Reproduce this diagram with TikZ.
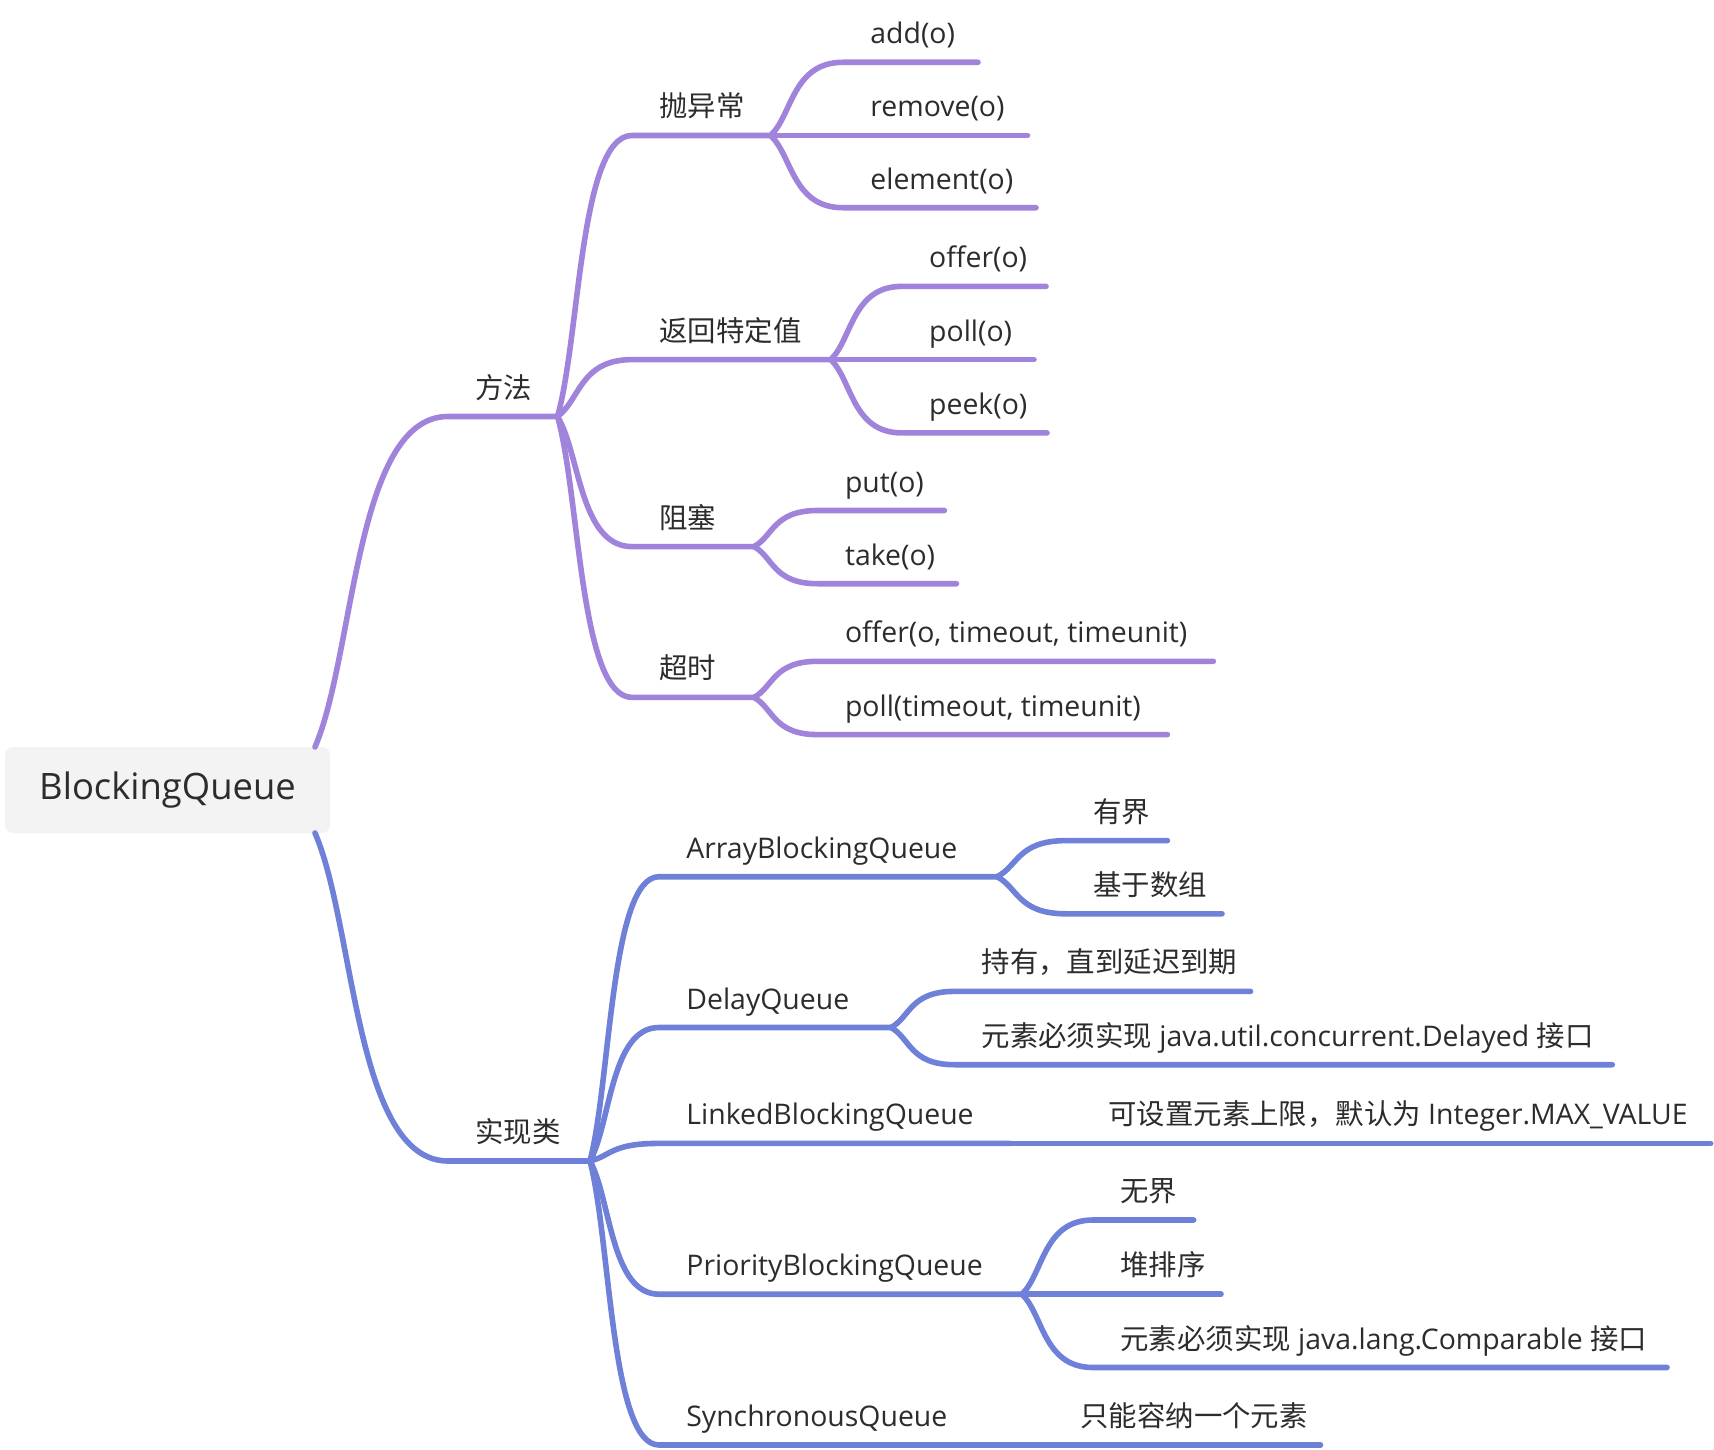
\documentclass[tikz,border=0pt]{standalone}
\usepackage{fontspec}
\setmainfont{Open Sans}
\newfontfamily\cjk{Noto Sans CJK SC}
\usepackage{tikz}
\usetikzlibrary{calc}
\definecolor{mpurple}{RGB}{160,132,220}
\definecolor{mblue}{RGB}{111,128,216}
\definecolor{mtext}{RGB}{44,44,44}
\definecolor{mroot}{RGB}{243,243,243}

\begin{document}
\begin{tikzpicture}[x=0.5pt, y=-0.5pt,
    root/.style={fill=mroot, rounded corners=4pt, minimum width=162.5pt,
                 minimum height=43pt, inner sep=0pt,
                 font=\fontsize{18.2}{20}\selectfont, text=mtext},
    lbl/.style={anchor=base west, inner sep=0pt, xshift=13.5pt, yshift=9.25pt,
                font=\fontsize{14.2}{16}\selectfont, text=mtext},
    pl/.style={draw=mpurple, line width=2.8pt, line cap=round},
    bl/.style={draw=mblue, line width=2.8pt, line cap=round},
    branch/.style={to path={let \p1=(\tikztostart), \p2=(\tikztotarget) in
        .. controls ({\x1+0.3*(\x2-\x1)},{\y1+0.28*(\y2-\y1)})
        and ({\x1+0.3*(\x2-\x1)},\y2) .. (\tikztotarget)}}
  ]
  \useasboundingbox (0,0) rectangle (1714,1450);
  % Root
  \node[root] (root) at (167.5,790) {BlockingQueue};
  \coordinate (rootN) at (315,747);
  \coordinate (rootS) at (315,833);

  % Methods (purple)
  \coordinate (ffS) at (448,416.5);   \coordinate (ffE) at (557.5,416.5);
  \coordinate (pcS) at (632,135.5);   \coordinate (pcE) at (770.6,135.5);
  \coordinate (fhS) at (632,359.6);   \coordinate (fhE) at (830.8,359.6);
  \coordinate (zsS) at (632,546.6);   \coordinate (zsE) at (754,546.6);
  \coordinate (csS) at (632,697.4);   \coordinate (csE) at (754,697.4);
  \coordinate (addS) at (843,62.3);   \coordinate (addE) at (978,62.3);
  \coordinate (rmS) at (843,135.5);   \coordinate (rmE) at (1027.5,135.5);
  \coordinate (elS) at (843,207.7);   \coordinate (elE) at (1036,207.7);
  \coordinate (ofS) at (901.8,286.4); \coordinate (ofE) at (1046,286.4);
  \coordinate (poS) at (901.8,359.6); \coordinate (poE) at (1034,359.6);
  \coordinate (pkS) at (901.8,432.9); \coordinate (pkE) at (1047,432.9);
  \coordinate (ptS) at (817.6,510.5); \coordinate (ptE) at (944.4,510.5);
  \coordinate (tkS) at (817.6,583.7); \coordinate (tkE) at (956.5,583.7);
  \coordinate (otS) at (817.6,661.3); \coordinate (otE) at (1213.3,661.3);
  \coordinate (ptoS) at (817.6,734.6); \coordinate (ptoE) at (1167.4,734.6);

  \draw[pl] (rootN) to[branch] (ffS) -- (ffE);
  \draw[pl] (ffE) to[branch] (pcS) -- (pcE);
  \draw[pl] (ffE) to[branch] (fhS) -- (fhE);
  \draw[pl] (ffE) to[branch] (zsS) -- (zsE);
  \draw[pl] (ffE) to[branch] (csS) -- (csE);
  \draw[pl] (pcE) to[branch] (addS) -- (addE);
  \draw[pl] (pcE) -- (rmE);
  \draw[pl] (pcE) to[branch] (elS) -- (elE);
  \draw[pl] (fhE) to[branch] (ofS) -- (ofE);
  \draw[pl] (fhE) -- (poE);
  \draw[pl] (fhE) to[branch] (pkS) -- (pkE);
  \draw[pl] (zsE) to[branch] (ptS) -- (ptE);
  \draw[pl] (zsE) to[branch] (tkS) -- (tkE);
  \draw[pl] (csE) to[branch] (otS) -- (otE);
  \draw[pl] (csE) to[branch] (ptoS) -- (ptoE);

  \node[lbl] (ff) at (ffS) {\cjk 方法};
  \node[lbl] (pc) at (pcS) {\cjk 抛异常};
  \node[lbl] (fh) at (fhS) {\cjk 返回特定值};
  \node[lbl] (zs) at (zsS) {\cjk 阻塞};
  \node[lbl] (cs) at (csS) {\cjk 超时};
  \node[lbl] (add) at (addS) {add(o)};
  \node[lbl] (rm) at (rmS) {remove(o)};
  \node[lbl] (el) at (elS) {element(o)};
  \node[lbl] (of) at (ofS) {offer(o)};
  \node[lbl] (po) at (poS) {poll(o)};
  \node[lbl] (pk) at (pkS) {peek(o)};
  \node[lbl] (pt) at (ptS) {put(o)};
  \node[lbl] (tk) at (tkS) {take(o)};
  \node[lbl] (ot) at (otS) {offer(o, timeout, timeunit)};
  \node[lbl] (pto) at (ptoS) {poll(timeout, timeunit)};

  % Implementations (blue)
  \coordinate (sxS) at (448,1161);    \coordinate (sxE) at (590,1161);
  \coordinate (abS) at (659,876.7);   \coordinate (abE) at (997,876.7);
  \coordinate (dqS) at (659,1027.5);  \coordinate (dqE) at (891,1027.5);
  \coordinate (lbS) at (659,1143.4);  \coordinate (lbE) at (1010,1143.4);
  \coordinate (pbS) at (659,1294.2);  \coordinate (pbE) at (1022,1294.2);
  \coordinate (sqS) at (659,1445);    \coordinate (sqE) at (982,1445);
  \coordinate (yjS) at (1066,840.6);  \coordinate (yjE) at (1167.4,840.6);
  \coordinate (szS) at (1066,913.8);  \coordinate (szE) at (1222,913.8);
  \coordinate (cyS) at (954.3,991.4); \coordinate (cyE) at (1250.5,991.4);
  \coordinate (dyS) at (954.3,1064.7); \coordinate (dyE) at (1612.3,1064.7);
  \coordinate (sxlS) at (1081,1143.4); \coordinate (sxlE) at (1710.7,1143.4);
  \coordinate (wjS) at (1093,1220);   \coordinate (wjE) at (1193.7,1220);
  \coordinate (dpS) at (1093,1294.2); \coordinate (dpE) at (1221,1294.2);
  \coordinate (cpS) at (1093,1367.5); \coordinate (cpE) at (1667,1367.5);
  \coordinate (ynS) at (1053,1445);   \coordinate (ynE) at (1320.5,1445);

  \draw[bl] (rootS) to[branch] (sxS) -- (sxE);
  \draw[bl] (sxE) to[branch] (abS) -- (abE);
  \draw[bl] (sxE) to[branch] (dqS) -- (dqE);
  \draw[bl] (sxE) to[branch] (lbS) -- (lbE);
  \draw[bl] (sxE) to[branch] (pbS) -- (pbE);
  \draw[bl] (sxE) to[branch] (sqS) -- (sqE);
  \draw[bl] (abE) to[branch] (yjS) -- (yjE);
  \draw[bl] (abE) to[branch] (szS) -- (szE);
  \draw[bl] (dqE) to[branch] (cyS) -- (cyE);
  \draw[bl] (dqE) to[branch] (dyS) -- (dyE);
  \draw[bl] (lbE) -- (sxlE);
  \draw[bl] (pbE) to[branch] (wjS) -- (wjE);
  \draw[bl] (pbE) -- (dpE);
  \draw[bl] (pbE) to[branch] (cpS) -- (cpE);
  \draw[bl] (sqE) -- (ynE);

  \node[lbl] (sx) at (sxS) {\cjk 实现类};
  \node[lbl] (ab) at (abS) {ArrayBlockingQueue};
  \node[lbl] (dq) at (dqS) {DelayQueue};
  \node[lbl] (lb) at (lbS) {LinkedBlockingQueue};
  \node[lbl] (pb) at (pbS) {PriorityBlockingQueue};
  \node[lbl] (sq) at (sqS) {SynchronousQueue};
  \node[lbl] (yj) at (yjS) {\cjk 有界};
  \node[lbl] (sz) at (szS) {\cjk 基于数组};
  \node[lbl] (cy) at (cyS) {\cjk 持有，直到延迟到期};
  \node[lbl] (dy) at (dyS) {{\cjk 元素必须实现} java.util.concurrent.Delayed {\cjk 接口}};
  \node[lbl] (sxl) at (sxlS) {{\cjk 可设置元素上限，默认为} Integer.MAX\_VALUE};
  \node[lbl] (wj) at (wjS) {\cjk 无界};
  \node[lbl] (dp) at (dpS) {\cjk 堆排序};
  \node[lbl] (cp) at (cpS) {{\cjk 元素必须实现} java.lang.Comparable {\cjk 接口}};
  \node[lbl] (yn) at (ynS) {\cjk 只能容纳一个元素};
\end{tikzpicture}
\end{document}
